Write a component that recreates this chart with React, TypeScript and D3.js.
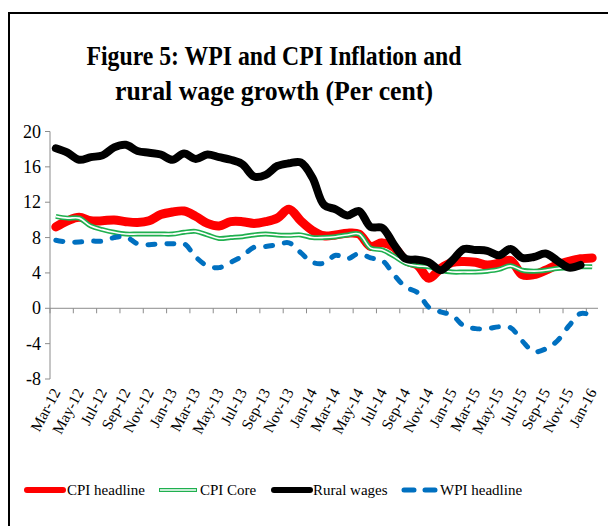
import { select, scaleBand, scaleLinear, line, curveCatmullRom } from "d3";
import { useRef, useEffect } from "react";

// months on the category axis, Mar-12 .. Jan-16
const months = [
  "Mar-12", "Apr-12", "May-12", "Jun-12", "Jul-12", "Aug-12", "Sep-12", "Oct-12", "Nov-12", "Dec-12",
  "Jan-13", "Feb-13", "Mar-13", "Apr-13", "May-13", "Jun-13", "Jul-13", "Aug-13", "Sep-13", "Oct-13", "Nov-13", "Dec-13",
  "Jan-14", "Feb-14", "Mar-14", "Apr-14", "May-14", "Jun-14", "Jul-14", "Aug-14", "Sep-14", "Oct-14", "Nov-14", "Dec-14",
  "Jan-15", "Feb-15", "Mar-15", "Apr-15", "May-15", "Jun-15", "Jul-15", "Aug-15", "Sep-15", "Oct-15", "Nov-15", "Dec-15",
  "Jan-16",
];

const cpiHeadline = [
  9.2, 9.9, 10.3, 9.9, 9.9, 10.0, 9.8, 9.7, 9.9, 10.6,
  10.9, 11.0, 10.4, 9.6, 9.3, 9.8, 9.8, 9.6, 9.8, 10.2, 11.2, 9.9,
  8.8, 8.2, 8.3, 8.5, 8.4, 7.0, 7.4, 6.9, 5.4, 4.9, 3.4, 4.5,
  5.2, 5.3, 5.2, 4.9, 5.1, 5.4, 3.8, 3.8, 4.3, 4.9, 5.3, 5.6,
  5.7,
];

const cpiCore = [
  10.4, 10.2, 10.2, 9.3, 8.9, 8.6, 8.4, 8.4, 8.4, 8.4,
  8.4, 8.6, 8.7, 8.3, 7.9, 8.0, 8.1, 8.3, 8.4, 8.3, 8.25, 8.3,
  8.0, 8.0, 8.1, 8.3, 8.4, 6.8, 6.6, 5.9, 5.1, 4.8, 4.7, 4.3,
  4.1, 4.1, 4.1, 4.2, 4.4, 4.8, 4.3, 4.2, 4.3, 4.5, 4.6, 4.7,
  4.7,
];

// rural wages stops at Dec-15
const ruralWages = [
  18.1, 17.6, 16.8, 17.1, 17.3, 18.2, 18.5, 17.8, 17.6, 17.4,
  16.8, 17.5, 16.9, 17.4, 17.1, 16.8, 16.3, 14.9, 15.1, 16.1, 16.4, 16.5,
  14.8, 11.7, 11.2, 10.5, 11.0, 9.2, 9.1, 7.2, 5.6, 5.5, 5.2, 4.3,
  5.4, 6.7, 6.6, 6.5, 6.0, 6.7, 5.7, 5.8, 6.2, 5.4, 4.6, 4.9,
];

const wpiHeadline = [
  7.7, 7.5, 7.5, 7.6, 7.6, 8.0, 8.1, 7.3, 7.2, 7.3,
  7.3, 7.3, 5.8, 4.8, 4.6, 5.2, 5.9, 6.9, 7.0, 7.2, 7.4, 6.3,
  5.2, 5.1, 6.0, 5.6, 6.2, 5.7, 5.4, 3.8, 2.4, 1.8, 0.1, -0.4,
  -0.8, -2.0, -2.3, -2.3, -2.1, -2.2, -3.7, -4.9, -4.6, -3.7, -2.0, -0.6,
  -0.8,
];

const yTicks = [20, 16, 12, 8, 4, 0, -4, -8];

const W = 608;
const H = 526;
const serif = "'Liberation Serif', 'Times New Roman', serif";

const App = () => {
  const svgRef = useRef<SVGSVGElement>(null);

  useEffect(() => {
    const svg = select(svgRef.current);
    svg.selectAll("*").remove();

    // outer frame (runs off the right and bottom edge)
    svg
      .append("rect")
      .attr("x", 9)
      .attr("y", 13)
      .attr("width", 640)
      .attr("height", 560)
      .attr("fill", "white")
      .attr("stroke", "black")
      .attr("stroke-width", 2);

    // title - glyphs are taller than the width allows, so squeeze it
    const titleLine = (ty: number, s: string, len: number) =>
      svg
        .append("text")
        .attr("x", 274 - len / 2)
        .attr("y", ty)
        .attr("font-family", serif)
        .attr("font-weight", "bold")
        .attr("font-size", 28)
        .attr("textLength", len)
        .attr("lengthAdjust", "spacingAndGlyphs")
        .text(s);
    titleLine(65, "Figure 5: WPI and CPI Inflation and", 375);
    titleLine(100, "rural wage growth (Per  cent)", 318);

    const x = scaleBand<string>().domain(months).range([50, 598]).padding(0);
    const y = scaleLinear().domain([-8, 20]).range([379, 131.5]);
    const cx = (i: number) => (x(months[i]) as number) + x.bandwidth() / 2;

    const axisColor = "#8c8c8c";

    // y axis
    svg
      .append("line")
      .attr("x1", 50)
      .attr("x2", 50)
      .attr("y1", y(20))
      .attr("y2", y(-8))
      .attr("stroke", axisColor);
    yTicks.forEach((t) => {
      svg
        .append("line")
        .attr("x1", 45)
        .attr("x2", 50)
        .attr("y1", y(t))
        .attr("y2", y(t))
        .attr("stroke", axisColor);
      svg
        .append("text")
        .attr("x", 41)
        .attr("y", y(t) + 6)
        .attr("text-anchor", "end")
        .attr("font-family", serif)
        .attr("font-size", 18)
        .text(t.toString());
    });

    // x axis sits on zero
    svg
      .append("line")
      .attr("x1", 50)
      .attr("x2", 598)
      .attr("y1", y(0))
      .attr("y2", y(0))
      .attr("stroke", axisColor);

    months.forEach((m, i) => {
      if (i % 2 !== 0) return;
      const x0 = x(m) as number;
      svg
        .append("line")
        .attr("x1", x0)
        .attr("x2", x0)
        .attr("y1", y(0))
        .attr("y2", y(0) + 5)
        .attr("stroke", axisColor);
      svg
        .append("text")
        .attr("transform", `translate(${cx(i) + 5},${392}) rotate(-62)`)
        .attr("text-anchor", "end")
        .attr("font-family", serif)
        .attr("font-size", 15.5)
        .text(m);
    });

    // lines
    const path = line<number>()
      .x((d, i) => cx(i))
      .y((d) => y(d))
      .curve(curveCatmullRom);

    svg
      .append("path")
      .datum(cpiHeadline)
      .attr("d", path)
      .attr("fill", "none")
      .attr("stroke", "#ff0000")
      .attr("stroke-width", 9)
      .attr("stroke-linecap", "round")
      .attr("stroke-linejoin", "round");

    // double line for core
    svg
      .append("path")
      .datum(cpiCore)
      .attr("d", path)
      .attr("fill", "none")
      .attr("stroke", "#1fb04f")
      .attr("stroke-width", 5)
      .attr("stroke-linejoin", "round");
    svg
      .append("path")
      .datum(cpiCore)
      .attr("d", path)
      .attr("fill", "none")
      .attr("stroke", "white")
      .attr("stroke-width", 1.6)
      .attr("stroke-linejoin", "round");

    svg
      .append("path")
      .datum(ruralWages)
      .attr("d", path)
      .attr("fill", "none")
      .attr("stroke", "black")
      .attr("stroke-width", 8)
      .attr("stroke-linecap", "round")
      .attr("stroke-linejoin", "round");

    svg
      .append("path")
      .datum(wpiHeadline)
      .attr("d", path)
      .attr("fill", "none")
      .attr("stroke", "#0070c0")
      .attr("stroke-width", 5)
      .attr("stroke-dasharray", "7 12")
      .attr("stroke-linecap", "round");

    // legend
    const ly = 490;
    const legendText = (lx: number, s: string) =>
      svg
        .append("text")
        .attr("x", lx)
        .attr("y", ly + 5)
        .attr("font-family", serif)
        .attr("font-size", 15)
        .text(s);

    svg.append("line").attr("x1", 27).attr("x2", 63).attr("y1", ly).attr("y2", ly)
      .attr("stroke", "#ff0000").attr("stroke-width", 6).attr("stroke-linecap", "round");
    legendText(67, "CPI headline");

    svg.append("line").attr("x1", 159).attr("x2", 197).attr("y1", ly).attr("y2", ly)
      .attr("stroke", "#1fb04f").attr("stroke-width", 4);
    svg.append("line").attr("x1", 160).attr("x2", 196).attr("y1", ly).attr("y2", ly)
      .attr("stroke", "white").attr("stroke-width", 1.4);
    legendText(200, "CPI Core");

    svg.append("line").attr("x1", 274).attr("x2", 310).attr("y1", ly).attr("y2", ly)
      .attr("stroke", "black").attr("stroke-width", 6).attr("stroke-linecap", "round");
    legendText(313, "Rural wages");

    svg.append("line").attr("x1", 404).attr("x2", 436).attr("y1", ly).attr("y2", ly)
      .attr("stroke", "#0070c0").attr("stroke-width", 5).attr("stroke-linecap", "round")
      .attr("stroke-dasharray", "10 11");
    legendText(440, "WPI headline");
  }, []);

  return (
    <div style={{ position: "absolute", left: 0, top: 0 }}>
      <svg ref={svgRef} width={W} height={H} style={{ display: "block" }}></svg>
    </div>
  );
};

export default App;
